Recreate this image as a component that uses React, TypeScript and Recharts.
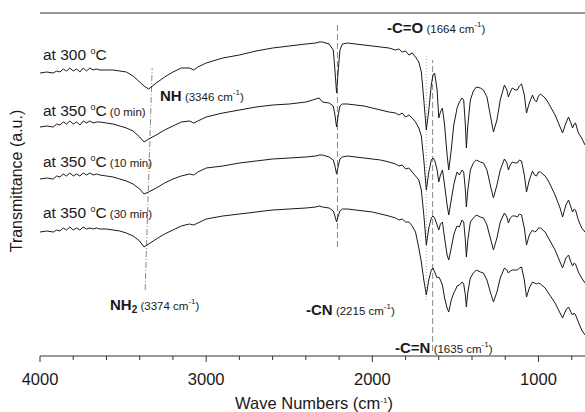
import React from 'react'
import { LineChart, Line, XAxis, YAxis, ReferenceLine } from 'recharts'

// wave numbers (cm-1) sampled along the spectra
const wavenumbers = [
  4000, 3960, 3920, 3900, 3880, 3860, 3840, 3820, 3800, 3780, 3760, 3740, 3720, 3700, 3680, 3660, 3640, 3600, 3560, 3520,
  3480, 3440, 3400, 3374, 3346, 3300, 3250, 3200, 3150, 3100, 3075, 3050, 3000, 2900, 2800, 2700, 2600, 2500, 2400, 2340,
  2320, 2300, 2260, 2235, 2225, 2215, 2205, 2195, 2180, 2150, 2100, 2050, 2000, 1950, 1900, 1860, 1840, 1820, 1800, 1780,
  1760, 1740, 1720, 1705, 1690, 1675, 1660, 1645, 1635, 1625, 1610, 1600, 1590, 1578, 1565, 1550, 1540, 1525, 1510, 1500,
  1490, 1476, 1460, 1450, 1440, 1434, 1425, 1410, 1392, 1374, 1350, 1331, 1310, 1290, 1271, 1250, 1230, 1205, 1190, 1181,
  1170, 1157, 1140, 1127, 1115, 1102, 1085, 1072, 1055, 1036, 1024, 1012, 1000, 988, 960, 940, 900, 870, 855, 835,
  819, 805, 795, 785, 777, 760, 740, 720,
]

// transmittance, arbitrary units (spectra stacked with an offset)
const at300 = [
  283, 284, 283, 285, 284, 287, 285, 288, 285, 287, 284, 288, 285, 288, 286, 287, 286, 286, 286, 285,
  284, 280, 274, 270, 267, 273, 279, 284, 288, 288, 286, 289, 293, 298, 301, 305, 308, 310, 312, 313,
  314, 314, 312, 306, 286, 263, 286, 306, 312, 313, 312, 311, 310, 309, 308, 306, 307, 304, 305, 301,
  303, 299, 294, 284, 256, 226, 246, 271, 281, 283, 266, 238, 244, 248, 231, 201, 186, 206, 231, 239,
  248, 254, 258, 256, 231, 208, 231, 256, 265, 269, 268, 266, 259, 241, 224, 236, 256, 271, 266, 259,
  264, 268, 266, 266, 270, 272, 261, 243, 253, 261, 256, 254, 260, 262, 258, 253, 241, 229, 223, 233,
  239, 233, 228, 232, 233, 223, 218, 211,
]
const at350min0 = [
  229, 230, 229, 232, 231, 234, 232, 235, 232, 234, 231, 235, 233, 235, 233, 234, 234, 233, 232, 230,
  228, 225, 219, 214, 217, 221, 226, 230, 234, 235, 233, 235, 239, 243, 246, 249, 251, 252, 254, 257,
  258, 254, 253, 250, 241, 229, 241, 250, 252, 252, 251, 250, 248, 246, 244, 243, 241, 243, 239, 241,
  238, 234, 228, 220, 196, 166, 184, 196, 198, 196, 186, 174, 181, 186, 171, 151, 141, 156, 171, 178,
  184, 181, 186, 184, 166, 149, 166, 186, 193, 196, 194, 193, 186, 171, 158, 171, 186, 197, 193, 186,
  191, 194, 193, 193, 196, 195, 181, 164, 176, 185, 181, 180, 184, 184, 180, 175, 161, 148, 139, 151,
  156, 149, 144, 147, 146, 136, 128, 124,
]
const at350min10 = [
  177, 178, 177, 180, 179, 182, 180, 183, 180, 182, 180, 183, 181, 183, 181, 182, 181, 180, 179, 177,
  175, 172, 167, 162, 164, 168, 173, 177, 180, 182, 181, 184, 188, 190, 193, 195, 197, 198, 199, 200,
  201, 201, 199, 196, 190, 182, 190, 197, 199, 200, 199, 198, 197, 196, 194, 192, 190, 191, 187, 188,
  184, 180, 176, 166, 141, 111, 128, 138, 140, 138, 131, 126, 132, 134, 118, 101, 96, 108, 121, 126,
  130, 129, 136, 134, 116, 99, 116, 134, 138, 141, 139, 138, 131, 118, 106, 118, 134, 143, 139, 133,
  138, 140, 140, 139, 142, 141, 128, 111, 121, 126, 124, 125, 128, 128, 124, 118, 106, 94, 88, 98,
  101, 94, 90, 93, 92, 84, 78, 73,
]
const at350min30 = [
  124, 125, 124, 126, 125, 128, 126, 129, 126, 128, 126, 129, 127, 128, 127, 128, 127, 127, 126, 125,
  123, 120, 115, 109, 112, 117, 122, 126, 130, 132, 131, 133, 137, 140, 142, 144, 146, 147, 148, 149,
  150, 149, 148, 145, 140, 134, 140, 145, 147, 147, 146, 145, 144, 142, 140, 138, 136, 137, 134, 134,
  130, 124, 108, 94, 76, 61, 76, 86, 88, 84, 78, 79, 76, 71, 58, 48, 44, 56, 63, 66,
  70, 71, 74, 72, 61, 49, 64, 78, 83, 86, 84, 83, 76, 64, 54, 64, 78, 88, 86, 83,
  85, 86, 86, 86, 88, 89, 76, 59, 68, 74, 73, 72, 73, 72, 68, 63, 53, 43, 38, 46,
  49, 44, 41, 43, 41, 34, 26, 21,
]

const xTicks = [800, 1000, 1200, 1400, 1600, 1800, 2000, 2200, 2400, 2600, 2800, 3000, 3200, 3400, 3600, 3800, 4000]

const rows = wavenumbers.map((wn, i) => ({
  wn,
  t300: at300[i],
  t0: at350min0[i],
  t10: at350min10[i],
  t30: at350min30[i],
}))

const FONT = '"Liberation Sans", Arial, sans-serif'
const INK = '#1a1a1a'

const WaveTick = ({ x, y, payload }: any) => {
  const major = payload.value % 1000 === 0
  return (
    <g>
      <line x1={x} x2={x} y1={y} y2={y + (major ? 6 : 4)} stroke="#333" />
      {major && (
        <text x={x} y={y + 29} textAnchor="middle" fontSize={16.5} fill={INK} fontFamily={FONT}>
          {payload.value}
        </text>
      )}
    </g>
  )
}

const Sup = ({ children, size = 8 }: { children: React.ReactNode; size?: number }) => (
  <span style={{ fontSize: size, position: 'relative', top: -6 }}>{children}</span>
)

const Temp = ({ top, label, time }: { top: number; label: string; time?: string }) => (
  <div style={{ position: 'absolute', left: 43, top, fontSize: 15.5, lineHeight: '15px', whiteSpace: 'nowrap' }}>
    {label} <Sup size={9}>o</Sup>C{time && <span style={{ fontSize: 11.5 }}> ({time})</span>}
  </div>
)

const Band = ({ left, top, name, sub, wn }: { left: number; top: number; name: string; sub?: string; wn: number }) => (
  <div style={{ position: 'absolute', left, top, fontSize: 15, lineHeight: '15px', whiteSpace: 'nowrap' }}>
    <b>{name}</b>
    {sub && <b style={{ fontSize: 10, position: 'relative', top: 3 }}>{sub}</b>}
    <span style={{ fontSize: 11.5 }}>
      {' '}({wn} cm<Sup>-1</Sup>)
    </span>
  </div>
)

export default function App() {
  return (
    <div style={{ position: 'absolute', left: 0, top: 0, width: 585, height: 412, fontFamily: FONT, color: INK, background: '#fff' }}>
      <LineChart width={585} height={412} data={rows} margin={{ top: 13, right: 0, left: 40, bottom: 26 }}>
        <XAxis
          dataKey="wn"
          type="number"
          domain={[720, 4000]}
          reversed
          allowDataOverflow
          ticks={xTicks}
          interval={0}
          tickLine={false}
          tickSize={0}
          tickMargin={0}
          tick={<WaveTick />}
          height={30}
          axisLine={{ stroke: '#333' }}
        />
        <YAxis domain={[0, 343]} width={0} tick={false} tickLine={false} axisLine={{ stroke: '#333' }} />
        <ReferenceLine y={343} stroke="#333" />
        <ReferenceLine segment={[{ x: 3367, y: 66 }, { x: 3325, y: 288 }]} stroke="#8a8a8a" strokeDasharray="6 2 1 2" />
        <ReferenceLine segment={[{ x: 2210, y: 109 }, { x: 2210, y: 334 }]} stroke="#8a8a8a" strokeDasharray="6 3" />
        <ReferenceLine segment={[{ x: 1675, y: 56 }, { x: 1675, y: 301 }]} stroke="#aaa" strokeDasharray="1 2" />
        <ReferenceLine segment={[{ x: 1637, y: 5 }, { x: 1637, y: 296 }]} stroke="#8a8a8a" strokeDasharray="6 3" />
        <Line dataKey="t300" stroke={INK} strokeWidth={1} dot={false} isAnimationActive={false} />
        <Line dataKey="t0" stroke={INK} strokeWidth={1} dot={false} isAnimationActive={false} />
        <Line dataKey="t10" stroke={INK} strokeWidth={1} dot={false} isAnimationActive={false} />
        <Line dataKey="t30" stroke={INK} strokeWidth={1} dot={false} isAnimationActive={false} />
      </LineChart>

      <Temp top={47} label="at 300" />
      <Temp top={103} label="at 350" time="0 min" />
      <Temp top={154} label="at 350" time="10 min" />
      <Temp top={205} label="at 350" time="30 min" />

      <Band left={160} top={88} name="NH" wn={3346} />
      <Band left={110} top={297} name="NH" sub="2" wn={3374} />
      <Band left={306} top={302} name="-CN" wn={2215} />
      <Band left={387} top={20} name="-C=O" wn={1664} />
      <Band left={395} top={340} name="-C=N" wn={1635} />

      <div style={{ position: 'absolute', left: 214, width: 200, top: 395, textAlign: 'center', fontSize: 16.5, lineHeight: '16px', whiteSpace: 'nowrap' }}>
        Wave Numbers (cm<Sup>-1</Sup>)
      </div>
      <div
        style={{
          position: 'absolute',
          left: 17 - 100,
          top: 181 - 8,
          width: 200,
          textAlign: 'center',
          fontSize: 16,
          lineHeight: '16px',
          transform: 'rotate(-90deg)',
          whiteSpace: 'nowrap',
        }}
      >
        Transmittance (a.u.)
      </div>
    </div>
  )
}
